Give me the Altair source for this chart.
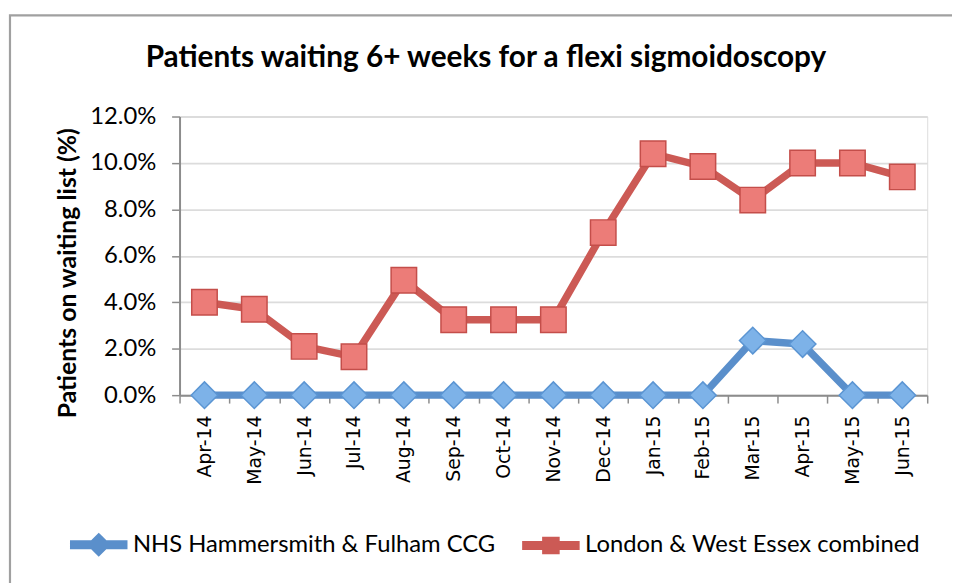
import altair as alt
import pandas as pd

months = ["Apr-14", "May-14", "Jun-14", "Jul-14", "Aug-14", "Sep-14", "Oct-14",
          "Nov-14", "Dec-14", "Jan-15", "Feb-15", "Mar-15", "Apr-15", "May-15", "Jun-15"]
series_names = ["NHS Hammersmith & Fulham CCG", "London & West Essex combined"]
nhs_hf = [0.0, 0.0, 0.0, 0.0, 0.0, 0.0, 0.0, 0.0, 0.0, 0.0, 0.0, 0.0235, 0.022, 0.0, 0.0]
london_we = [0.040, 0.037, 0.021, 0.0165, 0.0495, 0.0325, 0.0325, 0.0325, 0.070,
             0.104, 0.0985, 0.084, 0.100, 0.100, 0.094]
y_ticks = [0.0, 0.02, 0.04, 0.06, 0.08, 0.10, 0.12]

rows = []
for m, a, b in zip(months, nhs_hf, london_we):
    rows.append({"month": m, "series": series_names[0], "value": a})
    rows.append({"month": m, "series": series_names[1], "value": b})
df = pd.DataFrame(rows)

line_colors = ["#5A8FCB", "#CC5A55"]
FONT = "Lato"
PLOT_W, PLOT_H = 754, 281

x_enc = alt.X("month:O", sort=months, bandPosition=0.5,
              scale=alt.Scale(type="band", paddingInner=0, paddingOuter=0),
              axis=alt.Axis(title=None, labelAngle=270, labelFont="DejaVu Sans",
                            labelFontSize=19, labelColor="#000", tickBand="extent",
                            tickSize=8, tickColor="#8C8C8C", tickWidth=1.5,
                            domainColor="#8C8C8C", domainWidth=2, labelPadding=12,
                            labelBaseline="middle", labelAlign="right"))
y_enc = alt.Y("value:Q", scale=alt.Scale(domain=[0, 0.12], nice=False),
              axis=alt.Axis(values=y_ticks, format=".1%", title="Patients on waiting list (%)",
                            titleFont=FONT, titleFontSize=25, titleFontWeight="bold",
                            titleColor="#000", titleX=-113, titleY=PLOT_H / 2 + 17,
                            titleAngle=270, titleBaseline="middle", titleAlign="center",
                            labelFont=FONT, labelFontSize=24, labelColor="#000",
                            labelPadding=16, tickSize=8, tickColor="#8C8C8C", tickWidth=1.5,
                            domainColor="#8C8C8C", domainWidth=2,
                            gridColor="#DCDCDC", gridWidth=1.8))

# legend symbols are stroked paths: a horizontal line plus a small closed marker
path_blue = "M-1,0 L1,0 M0,-0.2 L0.2,0 L0,0.2 L-0.2,0 Z"
path_red = "M-1,0 L1,0 M-0.15,-0.15 L0.15,-0.15 L0.15,0.15 L-0.15,0.15 Z"
shape_expr = f"datum.value === '{series_names[0]}' ? '{path_blue}' : '{path_red}'"

legend = alt.Legend(
    title=None, orient="none", legendX=-115, legendY=398, direction="horizontal",
    labelFont=FONT, labelFontSize=24, labelColor="#000",
    symbolSize=3364, symbolStrokeWidth=9, symbolType={"expr": shape_expr},
    labelLimit=500, labelOffset=1, columnPadding=8,
)

base = alt.Chart(df)

lines = base.mark_line(strokeWidth=7.5).encode(
    x=x_enc, y=y_enc,
    color=alt.Color("series:N", scale=alt.Scale(domain=series_names, range=line_colors),
                    legend=legend),
    detail="series:N",
)

blue_pts = base.transform_filter(alt.datum.series == series_names[0]).mark_point(
    shape="diamond", filled=True, size=720, fill="#7DB2E8", stroke="#5B95D3",
    strokeWidth=1.5, opacity=1).encode(x=alt.X("month:O", sort=months, bandPosition=0.5), y="value:Q")

red_pts = base.transform_filter(alt.datum.series == series_names[1]).mark_point(
    shape="square", filled=True, size=660, fill="#EC7C78", stroke="#C44E4A",
    strokeWidth=1.5, opacity=1).encode(x=alt.X("month:O", sort=months, bandPosition=0.5), y="value:Q")

frame = alt.Chart(pd.DataFrame({"k": [0]})).mark_rect(
    filled=False, stroke="#A0A0A0", strokeWidth=2.2).encode(
    x=alt.value(-171), x2=alt.value(PLOT_W + 120), y=alt.value(-102), y2=alt.value(PLOT_H + 260))

chart = alt.layer(frame, lines, blue_pts, red_pts).properties(
    width=PLOT_W, height=PLOT_H,
    title=alt.TitleParams("Patients waiting 6+ weeks for a flexi sigmoidoscopy",
                          font=FONT, fontSize=30, fontWeight="bold", color="#000",
                          anchor="middle", frame="group", dx=-68, offset=0, dy=83,
                          baseline="alphabetic"),
    autosize=alt.AutoSizeParams(type="none"),
    padding={"left": 173, "top": 107, "right": 25, "bottom": 187},
).configure_view(stroke=None).configure(background="white")

chart.save("out.html", embed_options={"renderer": "svg", "actions": False})
